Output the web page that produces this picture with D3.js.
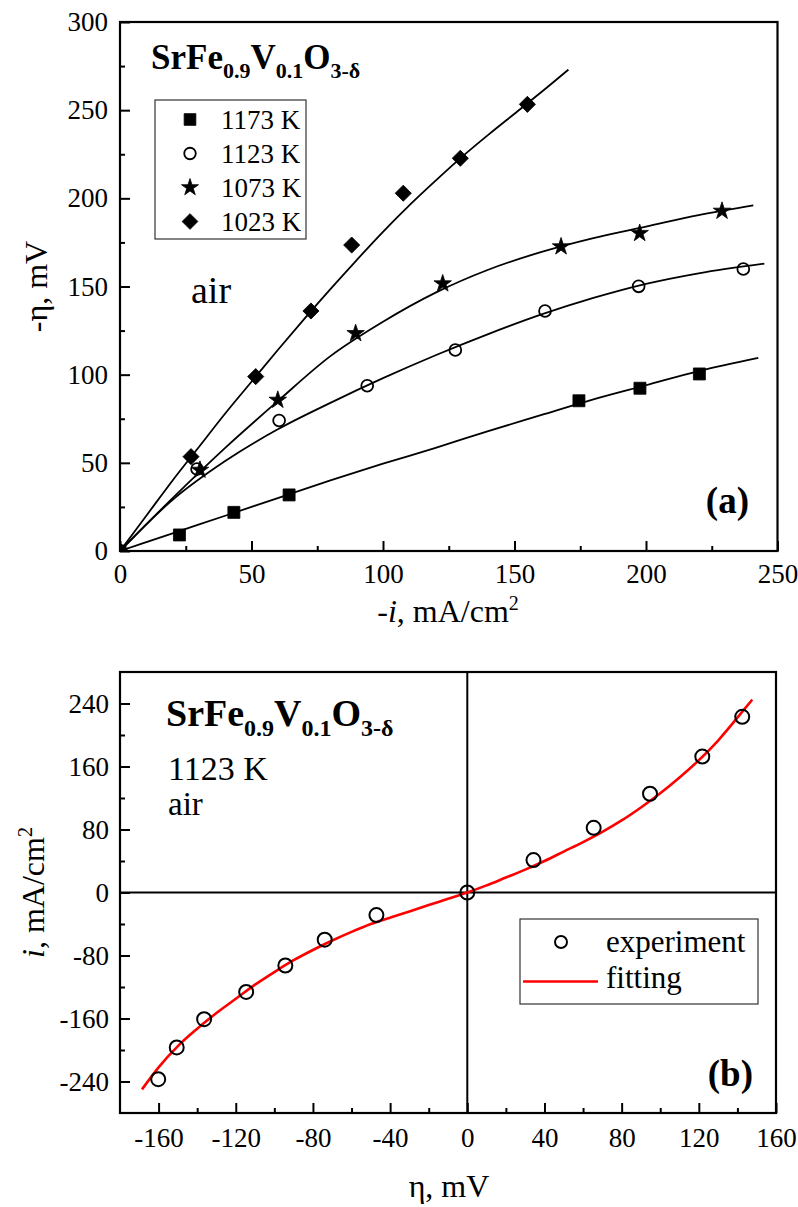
<!DOCTYPE html>
<html>
<head>
<meta charset="utf-8">
<script src="https://cdn.jsdelivr.net/npm/d3@7"></script>
<style>
  body { margin: 0; background: #fff; }
  svg { display: block; }
  text { font-family: "Liberation Serif", "Times New Roman", serif; fill: #000; }
</style>
</head>
<body>
<svg id="chart" width="798" height="1207"></svg>
<script>
// ---------- Panel (a): -eta vs -i at four temperatures ----------
const tempLabels = ["1173 K", "1123 K", "1073 K", "1023 K"];

// measured points: [-i (mA/cm2), -eta (mV)]
const pts1173 = [[0,0],[22.6,9.1],[43.3,21.9],[64.3,31.8],[174.5,85.2],[197.7,92.3],[220.3,100.4]];
const pts1123 = [[0,0],[29.3,46.5],[60.5,74],[94,93.7],[127.5,114],[161.6,136.1],[197.2,150.1],[237,159.9]];
const pts1073 = [[0,0],[30.4,45.9],[60,85.6],[89.6,123.4],[122.7,151.6],[167.7,172.6],[197.6,180.2],[228.9,192.8]];
const pts1023 = [[0,0],[27,53.5],[51.6,98.9],[72.6,136.1],[88.1,173.5],[107.7,202.9],[129.4,222.7],[154.9,253.3]];

// fitted curves
const fit1173 = [[0,0],[20,10],[40,20],[60,30],[80,40],[100,49.5],[120,58.5],[140,68],[160,77],[180,86],[200,94],[220,102],[242.7,109.5]];
const fit1123 = [[0,0],[20,29],[40,51],[60,69],[80,84],[100,98],[120,111],[140,123],[160,134],[180,143.5],[200,151.5],[220,157.5],[245,163]];
const fit1073 = [[0,0],[20,30],[40,58.5],[60,85],[80,110.5],[100,130],[120,146.5],[140,159.5],[160,169.5],[180,177.5],[200,184],[220,190.5],[240.8,196]];
const fit1023 = [[0,0],[10,20],[20,40],[30,59],[40,78],[50,96],[60,114],[70,131.5],[80,148.5],[90,165],[100,181],[110,196],[120,210],[130,223.5],[140,236],[150,248],[160,260],[170.5,273]];

const xTicksA = [0, 50, 100, 150, 200, 250];
const xMinorA = [25, 75, 125, 175, 225];
const yTicksA = [0, 50, 100, 150, 200, 250, 300];
const yMinorA = [25, 75, 125, 175, 225, 275];

// ---------- Panel (b): i vs eta at 1123 K ----------
// measured points: [eta (mV), i (mA/cm2)]
const ptsB = [[-160.2,-237],[-150.6,-196.7],[-136.4,-160.9],[-114.6,-126.3],[-94.3,-92.7],[-73.9,-59.9],[-47.1,-28.7],[0,0],[34.3,41.2],[65.5,82.1],[94.7,125.4],[121.8,172.6],[142.5,223.1]];
// fitted curve
const fitB = [[-168.6,-250],[-160,-222],[-150,-195],[-140,-173],[-130,-153],[-120,-135],[-110,-117],[-100,-101],[-90,-86],[-80,-73],[-70,-61],[-60,-50],[-50,-40],[-40,-32],[-30,-24],[-20,-16],[-10,-8],[0,0],[10,9],[20,19],[30,29],[40,40],[50,52],[60,64],[70,77],[80,91.5],[90,108],[100,126],[110,146],[120,168],[130,193],[140,222],[147.7,245]];

const xTicksB = [-160, -120, -80, -40, 0, 40, 80, 120, 160];
const xMinorB = [-140, -100, -60, -20, 20, 60, 100, 140];
const yTicksB = [-240, -160, -80, 0, 80, 160, 240];
const yMinorB = [-200, -120, -40, 40, 120, 200];
const legendB = ["experiment", "fitting"];

const svg = d3.select("#chart");
const fmt = d => String(d).replace("\u2212", "-");

function drawAxes(g, x, y, xt, xm, yt, ym, xPad, yPad) {
  const [x0, x1] = x.range();
  const [yb, yt0] = y.range();
  g.append("g").attr("transform", `translate(0,${yb})`)
    .call(d3.axisBottom(x).tickValues(xt).tickSize(-10).tickPadding(xPad).tickFormat(fmt))
    .call(s => s.select(".domain").remove())
    .call(s => s.selectAll("line").attr("stroke", "#000").attr("stroke-width", 2))
    .call(s => s.selectAll("text").attr("font-size", 27).attr("font-family", "Liberation Serif"));
  g.append("g").attr("transform", `translate(0,${yb})`)
    .call(d3.axisBottom(x).tickValues(xm).tickSize(-5).tickFormat(""))
    .call(s => s.select(".domain").remove())
    .call(s => s.selectAll("line").attr("stroke", "#000").attr("stroke-width", 2));
  g.append("g").attr("transform", `translate(${x0},0)`)
    .call(d3.axisLeft(y).tickValues(yt).tickSize(-10).tickPadding(yPad).tickFormat(fmt))
    .call(s => s.select(".domain").remove())
    .call(s => s.selectAll("line").attr("stroke", "#000").attr("stroke-width", 2))
    .call(s => s.selectAll("text").attr("font-size", 27).attr("font-family", "Liberation Serif"));
  g.append("g").attr("transform", `translate(${x0},0)`)
    .call(d3.axisLeft(y).tickValues(ym).tickSize(-5).tickFormat(""))
    .call(s => s.select(".domain").remove())
    .call(s => s.selectAll("line").attr("stroke", "#000").attr("stroke-width", 2));
  g.append("rect").attr("x", x0).attr("y", yt0).attr("width", x1 - x0).attr("height", yb - yt0)
    .attr("fill", "none").attr("stroke", "#000").attr("stroke-width", 2.2);
}

function formula(g, xPos, yPos, size, shift) {
  const t = g.append("text").attr("x", xPos).attr("y", yPos)
    .attr("font-size", size).attr("font-weight", "bold");
  const sub = Math.round(size * 0.63);
  const parts = [["SrFe", false], ["0.9", true], ["V", false], ["0.1", true], ["O", false], ["3-\u03B4", true]];
  let down = false;
  parts.forEach(([s, isSub]) => {
    const ts = t.append("tspan").text(s).attr("font-size", isSub ? sub : size);
    if (isSub && !down) { ts.attr("dy", shift); down = true; }
    else if (!isSub && down) { ts.attr("dy", -shift); down = false; }
  });
}

// ================= Panel (a) =================
const xA = d3.scaleLinear().domain([0, 250]).range([120, 777.5]);
const yA = d3.scaleLinear().domain([0, 300]).range([551, 22]);
const gA = svg.append("g");

svg.append("defs").append("clipPath").attr("id", "clipA")
  .append("rect").attr("x", 120).attr("y", 22).attr("width", 657.5).attr("height", 529);

const lineA = d3.line().x(d => xA(d[0])).y(d => yA(d[1])).curve(d3.curveMonotoneX);
[fit1173, fit1123, fit1073, fit1023].forEach(f => {
  gA.append("path").attr("d", lineA(f)).attr("fill", "none")
    .attr("stroke", "#000").attr("stroke-width", 1.8);
});

const symA = [
  { sym: d3.symbolSquare, size: 144, fill: "#000", rot: 0 },
  { sym: d3.symbolCircle, size: 110, fill: "none", rot: 0 },
  { sym: d3.symbolStar, size: 95, fill: "#000", rot: 0 },
  { sym: d3.symbolSquare, size: 130, fill: "#000", rot: 45 }
];
const seriesA = [pts1173, pts1123, pts1073, pts1023];

const markA = gA.append("g").attr("clip-path", "url(#clipA)");
seriesA.forEach((pts, i) => {
  const s = symA[i];
  markA.selectAll(null).data(pts).enter().append("path")
    .attr("d", d3.symbol().type(s.sym).size(s.size))
    .attr("transform", d => `translate(${xA(d[0])},${yA(d[1])}) rotate(${s.rot})`)
    .attr("fill", s.fill).attr("stroke", "#000").attr("stroke-width", s.fill === "none" ? 1.8 : 0.8);
});

drawAxes(gA, xA, yA, xTicksA, xMinorA, yTicksA, yMinorA, 13, 12);

// legend (a)
gA.append("rect").attr("x", 155).attr("y", 100).attr("width", 151).attr("height", 139)
  .attr("fill", "#fff").attr("stroke", "#333").attr("stroke-width", 1.2);
tempLabels.forEach((lab, i) => {
  const yy = 119.5 + i * 34;
  const s = symA[i];
  gA.append("path").attr("d", d3.symbol().type(s.sym).size(s.size * 0.95))
    .attr("transform", `translate(190,${yy}) rotate(${s.rot})`)
    .attr("fill", s.fill).attr("stroke", "#000").attr("stroke-width", s.fill === "none" ? 1.8 : 0.8);
  gA.append("text").attr("x", 221).attr("y", yy + 9).attr("font-size", 27).text(lab);
});

formula(gA, 151, 69, 35, 9);
gA.append("text").attr("x", 191).attr("y", 303).attr("font-size", 38).text("air");
gA.append("text").attr("x", 749).attr("y", 513).attr("text-anchor", "end")
  .attr("font-size", 37).attr("font-weight", "bold").text("(a)");

// axis titles (a)
const xtA = gA.append("text").attr("x", 448).attr("y", 622).attr("text-anchor", "middle").attr("font-size", 32);
xtA.append("tspan").text("-");
xtA.append("tspan").attr("font-style", "italic").text("i");
xtA.append("tspan").text(", mA/cm");
xtA.append("tspan").attr("dy", -12).attr("font-size", 20).text("2");
gA.append("text").attr("transform", "translate(47,286.5) rotate(-90)")
  .attr("text-anchor", "middle").attr("font-size", 32).text("-\u03B7, mV");

// ================= Panel (b) =================
const xB = d3.scaleLinear().domain([-180, 160]).range([120, 776]);
const yB = d3.scaleLinear().domain([-280, 280]).range([1113, 672]);
const gB = svg.append("g");

// zero lines
gB.append("line").attr("x1", xB(0)).attr("x2", xB(0)).attr("y1", yB(280)).attr("y2", yB(-280))
  .attr("stroke", "#000").attr("stroke-width", 2);
gB.append("line").attr("x1", xB(-180)).attr("x2", xB(160)).attr("y1", yB(0)).attr("y2", yB(0))
  .attr("stroke", "#000").attr("stroke-width", 2);

const lineB = d3.line().x(d => xB(d[0])).y(d => yB(d[1])).curve(d3.curveMonotoneX);
gB.append("path").attr("d", lineB(fitB)).attr("fill", "none")
  .attr("stroke", "#ff0000").attr("stroke-width", 2.6);

gB.selectAll(null).data(ptsB).enter().append("circle")
  .attr("cx", d => xB(d[0])).attr("cy", d => yB(d[1])).attr("r", 7)
  .attr("fill", "none").attr("stroke", "#000").attr("stroke-width", 2);

drawAxes(gB, xB, yB, xTicksB, xMinorB, yTicksB, yMinorB, 14.5, 11);

formula(gB, 166, 726, 38, 10);
gB.append("text").attr("x", 168).attr("y", 780).attr("font-size", 34).text("1123 K");
gB.append("text").attr("x", 168).attr("y", 815).attr("font-size", 33).text("air");
gB.append("text").attr("x", 753).attr("y", 1086).attr("text-anchor", "end")
  .attr("font-size", 37).attr("font-weight", "bold").text("(b)");

// legend (b)
gB.append("rect").attr("x", 520).attr("y", 919).attr("width", 238).attr("height", 85)
  .attr("fill", "#fff").attr("stroke", "#333").attr("stroke-width", 1.2);
gB.append("circle").attr("cx", 561).attr("cy", 942).attr("r", 6)
  .attr("fill", "none").attr("stroke", "#000").attr("stroke-width", 2);
gB.append("line").attr("x1", 523).attr("x2", 598).attr("y1", 981.5).attr("y2", 981.5)
  .attr("stroke", "#ff0000").attr("stroke-width", 2.6);
legendB.forEach((lab, i) => {
  gB.append("text").attr("x", 606).attr("y", 952 + i * 36).attr("font-size", 31).text(lab);
});

// axis titles (b)
gB.append("text").attr("x", 449).attr("y", 1197).attr("text-anchor", "middle")
  .attr("font-size", 32).text("\u03B7, mV");
const ytB = gB.append("text").attr("transform", "translate(43.5,892.5) rotate(-90)")
  .attr("text-anchor", "middle").attr("font-size", 32);
ytB.append("tspan").attr("font-style", "italic").text("i");
ytB.append("tspan").text(", mA/cm");
ytB.append("tspan").attr("dy", -12).attr("font-size", 20).text("2");
</script>
</body>
</html>
